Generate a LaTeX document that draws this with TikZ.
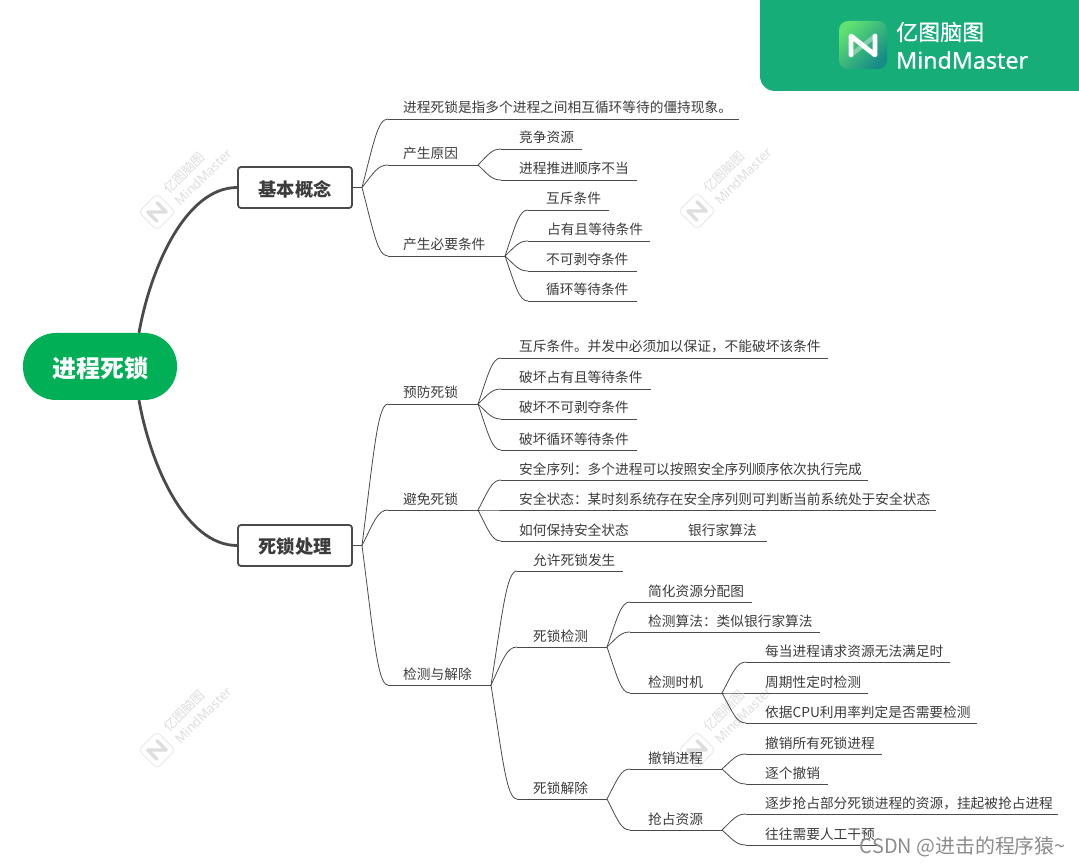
\documentclass[tikz,border=0pt]{standalone}
\usepackage{fontspec}
\setmainfont{Noto Sans CJK SC}
\newfontfamily\latinfont{Noto Sans}
\newfontfamily\bannerlatin[FakeBold=0.45]{Noto Sans}
\newfontfamily\bannercn[FakeBold=0.45]{Noto Sans CJK SC}
\usetikzlibrary{calc}
\definecolor{rootgreen}{HTML}{00AF56}
\definecolor{bannergreen}{HTML}{17AD79}
\definecolor{iconA}{HTML}{5EE072}
\definecolor{iconB}{HTML}{158C86}
\definecolor{inkc}{HTML}{3C3C3C}
\definecolor{linec}{HTML}{4A4A4A}
\definecolor{wmfill}{HTML}{DEDEDE}
\definecolor{wmedge}{HTML}{EBEBEB}
\newcommand{\lowertext}[1]{\raisebox{-1.5pt}[\height][\depth]{#1}}
\tikzset{
  lbl/.style={inner sep=0pt,text=inkc,font=\fontsize{13.7}{16}\selectfont},
  uline/.style={draw=linec,line width=0.8pt},
  branch/.style={draw=linec,line width=0.8pt},
  mainlink/.style={draw=linec,line width=2.8pt},
  rootnode/.style={fill=rootgreen,rounded corners=33pt,minimum width=154pt,minimum height=67pt,inner sep=0pt,text=white,font=\fontsize{24}{28}\selectfont\bfseries},
  mainnode/.style={draw=linec,line width=1.8pt,fill=white,rounded corners=3pt,minimum width=114pt,minimum height=41pt,inner sep=0pt,text=inkc,font=\fontsize{18.3}{22}\selectfont\bfseries},
  wmtext/.style={inner sep=0pt,text=wmfill,rotate=45}
}
\newcommand{\topic}[6]{%
  \coordinate (#1-s) at (#2,#4);
  \coordinate (#1-e) at (#3,#4);
  \draw[uline] (#1-s) -- (#1-e);
  \node[lbl,anchor=base west] (#1) at (#5,{#4-6.0}) {#6};
}
\newcommand{\conn}[2]{%
  \draw[branch] let \p1=(#1),\p2=(#2) in (#1) .. controls ({\x1+0.45*(\x2-\x1)},{\y1+0.65*(\y2-\y1)}) and ({\x1+0.6*(\x2-\x1)},{\y2}) .. (#2);
}
\newcommand{\watermark}[3]{%
  \begin{scope}[shift={(#2,#3)}]
    \node[draw=wmedge,line width=1pt,fill=white,rounded corners=4pt,minimum size=26pt,rotate=45] (#1-box) at (0,0) {};
    \draw[wmfill,line width=3.4pt,line cap=round,line join=round,rotate=45] (-6.5,6.5) -- (-6.5,-6.5) -- (6.5,6.5) -- (6.5,-6.5);
    \node[wmtext,font=\fontsize{13}{15}\selectfont] (#1-cn) at (27,-39) {亿图脑图};
    \node[wmtext,font=\latinfont\fontsize{13}{15}\selectfont] (#1-en) at (46,-35) {MindMaster};
  \end{scope}
}
\begin{document}
\begin{tikzpicture}[x=1pt,y=-1pt]
\useasboundingbox (0,0) rectangle (1079,866);
\fill[white] (0,0) rectangle (1079,866);

% watermarks
\watermark{wa}{157}{212}
\watermark{wb}{697}{211}
\watermark{wc}{157}{750}
\watermark{wd}{697}{750}

% banner
\fill[bannergreen] (760,0) [rounded corners=15pt] -- (760,91) [sharp corners] -- (1079,91) -- (1079,0) -- cycle;
\shade[rounded corners=9pt,top color=iconA,bottom color=iconB,shading angle=45] (839,21) rectangle (887,69);
\draw[white,opacity=0.35,line width=4.4pt,line cap=round] (851,55) -- (875,36);
\draw[white,line width=4.8pt,line cap=round,line join=round] (851,55) -- (851,36) -- (875,55) -- (875,36);
\node[inner sep=0pt,anchor=west,text=white,font=\bannercn\fontsize{22}{26}\selectfont] (bannercn) at (896,32) {亿图脑图};
\node[inner sep=0pt,anchor=west,text=white,font=\bannerlatin\fontsize{23.2}{28}\selectfont] (banneren) at (896,60) {MindMaster};

% root and main topics
\node[rootnode] (root) at (100,366.5) {\lowertext{进程死锁}};
\node[mainnode] (basic) at (295,187.5) {\lowertext{基本概念}};
\node[mainnode] (handle) at (295,545.5) {\lowertext{死锁处理}};
\coordinate (rootup) at ($(root.north)+(39,0)$);
\coordinate (rootdown) at ($(root.south)+(39,0)$);
\draw[mainlink] (rootup) .. controls (150,270) and (185,187.5) .. (basic.west);
\draw[mainlink] (rootdown) .. controls (150,463) and (185,545.5) .. (handle.west);
\coordinate (basicj) at (362,187.5);
\coordinate (handlej) at (362,545.5);
\draw[branch] (basic.east) -- (basicj);
\draw[branch] (handle.east) -- (handlej);

% basic concept
\topic{a1}{388}{739}{119}{403}{进程死锁是指多个进程之间相互循环等待的僵持现象。}
\topic{a2}{388}{478}{165}{403}{产生原因}
\topic{a3}{388}{505}{256}{403}{产生必要条件}
\topic{a21}{501}{582}{149}{519}{竞争资源}
\topic{a22}{501}{637}{180}{519}{进程推进顺序不当}
\topic{a31}{528}{609}{210}{546}{互斥条件}
\topic{a32}{528}{650}{241}{547}{占有且等待条件}
\topic{a33}{528}{637}{271}{546}{不可剥夺条件}
\topic{a34}{528}{637}{301}{546}{循环等待条件}
\conn{basicj}{a1-s}\conn{basicj}{a2-s}\conn{basicj}{a3-s}
\conn{a2-e}{a21-s}\conn{a2-e}{a22-s}
\conn{a3-e}{a31-s}\conn{a3-e}{a32-s}\conn{a3-e}{a33-s}\conn{a3-e}{a34-s}

% deadlock handling
\topic{b1}{388}{478}{404}{403}{预防死锁}
\topic{b2}{388}{478}{510}{403}{避免死锁}
\topic{b3}{388}{491}{685}{403}{检测与解除}
\conn{handlej}{b1-s}\conn{handlej}{b2-s}\conn{handlej}{b3-s}

\topic{b11}{501}{828}{358}{519}{互斥条件。并发中必须加以保证，不能破坏该条件}
\topic{b12}{501}{651}{389}{519}{破坏占有且等待条件}
\topic{b13}{501}{637}{419}{519}{破坏不可剥夺条件}
\topic{b14}{501}{637}{450}{519}{破坏循环等待条件}
\conn{b1-e}{b11-s}\conn{b1-e}{b12-s}\conn{b1-e}{b13-s}\conn{b1-e}{b14-s}

\topic{b21}{501}{868}{480}{519}{安全序列：多个进程可以按照安全序列顺序依次执行完成}
\topic{b22}{501}{936}{510}{519}{安全状态：某时刻系统存在安全序列则可判断当前系统处于安全状态}
\topic{b23}{501}{662}{541}{519}{如何保持安全状态}
\topic{b231}{662}{767}{541}{688}{银行家算法}
\conn{b2-e}{b21-s}\conn{b2-e}{b22-s}\conn{b2-e}{b23-s}
\draw[branch] (b23-e) -- (b231-s);

\topic{b31}{517}{623}{571}{533}{允许死锁发生}
\topic{b32}{517}{607}{647}{533}{死锁检测}
\topic{b33}{517}{607}{799}{533}{死锁解除}
\conn{b3-e}{b31-s}\conn{b3-e}{b32-s}\conn{b3-e}{b33-s}

\topic{c1}{630}{752}{602}{648}{简化资源分配图}
\topic{c2}{630}{820}{632}{648}{检测算法：类似银行家算法}
\topic{c3}{630}{722}{693}{648}{检测时机}
\conn{b32-e}{c1-s}\conn{b32-e}{c2-s}\conn{b32-e}{c3-s}

\topic{c31}{746}{950}{662}{765}{每当进程请求资源无法满足时}
\topic{c32}{746}{868}{693}{765}{周期性定时检测}
\topic{c33}{746}{977}{723}{765}{依据CPU利用率判定是否需要检测}
\conn{c3-e}{c31-s}\conn{c3-e}{c32-s}\conn{c3-e}{c33-s}

\topic{d1}{630}{722}{769}{648}{撤销进程}
\topic{d2}{630}{722}{830}{648}{抢占资源}
\conn{b33-e}{d1-s}\conn{b33-e}{d2-s}

\topic{d11}{746}{882}{754}{765}{撤销所有死锁进程}
\topic{d12}{746}{828}{784}{765}{逐个撤销}
\conn{d1-e}{d11-s}\conn{d1-e}{d12-s}

\topic{d21}{746}{1058}{814}{765}{逐步抢占部分死锁进程的资源，挂起被抢占进程}
\topic{d22}{746}{880}{845}{765}{往往需要人工干预}
\conn{d2-e}{d21-s}\conn{d2-e}{d22-s}

% CSDN stamp
\node[inner sep=0pt,anchor=east,text=black!45,font=\fontsize{19.9}{23}\selectfont] (stamp) at (1066,847) {CSDN @进击的程序猿\char"007E};
\end{tikzpicture}
\end{document}
